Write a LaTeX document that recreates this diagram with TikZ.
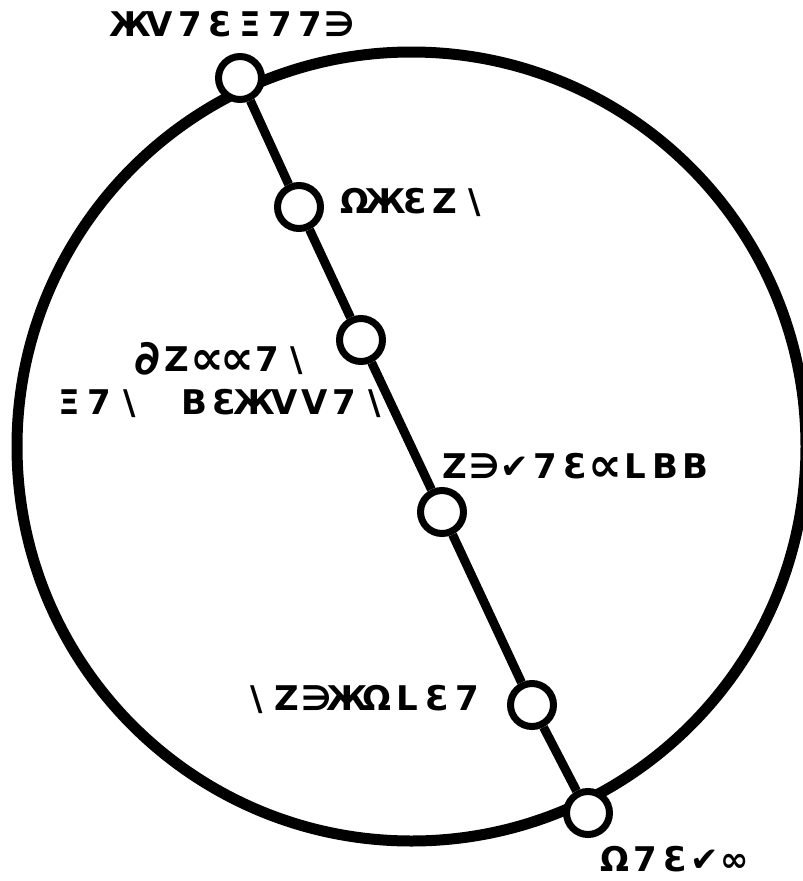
\documentclass[tikz,border=0pt]{standalone}
\usepackage{fontspec}
\newfontfamily\glyphfont{DejaVu Sans Bold}
\newcommand\gl[1]{\makebox[30pt]{#1}}
\newcommand\bg[1]{\makebox[30pt]{\raisebox{-3pt}{\scalebox{1.4}{#1}}}}
\newcommand\hk{\makebox[30pt]{\textbackslash}}
\tikzset{
  pt/.style={circle,draw=black,fill=white,line width=7pt,minimum size=43pt,inner sep=0pt},
  lbl/.style={font=\glyphfont\fontsize{34}{43}\selectfont,inner sep=0pt,align=center},
  orbit/.style={line width=11pt},
  axisline/.style={line width=9pt}
}
\begin{document}
\begin{tikzpicture}[x=1pt,y=-1pt]
\useasboundingbox (0,0) rectangle (803,881);
\draw[orbit] (411.5,446.5) circle (394.5);
\node[pt] (n1) at (240,78) {};
\node[pt] (n2) at (299,207) {};
\node[pt] (n3) at (361,340) {};
\node[pt] (n4) at (442,512) {};
\node[pt] (n5) at (532,705) {};
\node[pt] (n6) at (588,813) {};
\draw[axisline] (n1) -- (n2) -- (n3) -- (n4) -- (n5) -- (n6);
\node[lbl] (l1) at (235,24) {\gl{Ж}\gl{V}\gl{7}\gl{Ɛ}\gl{Ξ}\gl{7}\gl{7}\gl{∋}};
\node[lbl] (l2) at (415,202) {\gl{Ω}\gl{Ж}\gl{Ɛ}\gl{Z}\hk};
\node[lbl] (l3) at (222,380) {\bg{∂}\gl{Z}\bg{∝}\bg{∝}\gl{7}\hk\\
  \gl{Ξ}\gl{7}\hk\hspace{35pt}\gl{B}\gl{Ɛ}\gl{Ж}\gl{V}\gl{V}\gl{7}\hk};
\node[lbl] (l4) at (575,467) {\gl{Z}\gl{∋}\gl{✔}\gl{7}\gl{Ɛ}\bg{∝}\gl{L}\gl{B}\gl{B}};
\node[lbl] (l5) at (362,699) {\hk\gl{Z}\gl{∋}\gl{Ж}\gl{Ω}\gl{L}\gl{Ɛ}\gl{7}};
\node[lbl] (l6) at (675,859) {\gl{Ω}\gl{7}\gl{Ɛ}\gl{✔}\gl{∞}};
\end{tikzpicture}
\end{document}
